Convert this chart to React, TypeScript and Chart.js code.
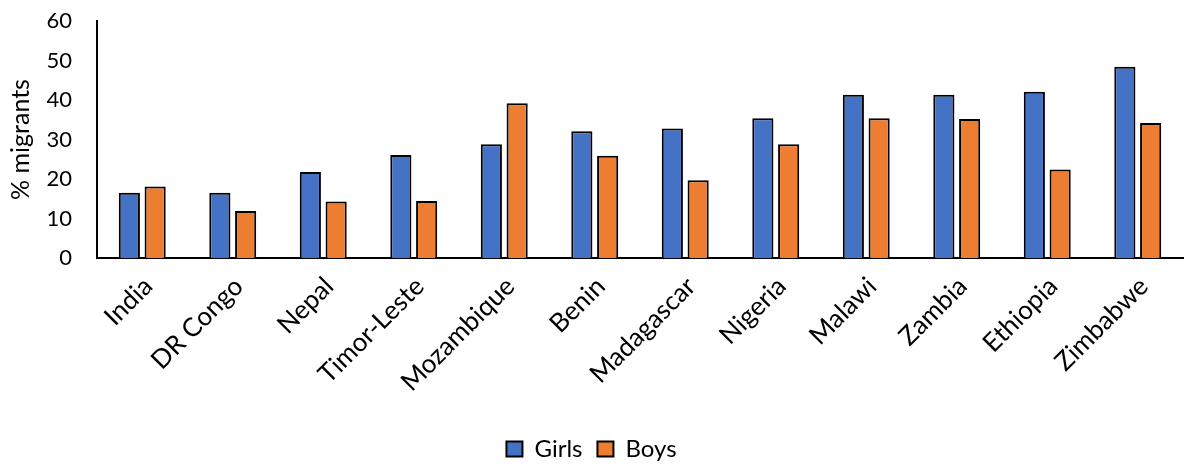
import React, { useEffect, useRef } from 'react';
import { Chart, registerables } from 'chart.js';
Chart.register(...registerables);

const categories = ['India', 'DR Congo', 'Nepal', 'Timor-Leste', 'Mozambique', 'Benin', 'Madagascar', 'Nigeria', 'Malawi', 'Zambia', 'Ethiopia', 'Zimbabwe'];
const girls = [16.5, 16.5, 21.8, 26.1, 28.8, 32.1, 32.8, 35.4, 41.3, 41.3, 42.1, 48.4];
const boys = [18.1, 11.9, 14.3, 14.4, 39.2, 25.9, 19.7, 28.8, 35.4, 35.2, 22.4, 34.2];
const yMin = 0;
const yMax = 60;
const yStep = 10;

const FONT = 'Lato, "Open Sans", sans-serif';

export default function App() {
  const ref = useRef<HTMLCanvasElement | null>(null);
  useEffect(() => {
    document.body.style.margin = '0';
    if (!ref.current) return;
    const chart = new Chart(ref.current, {
      type: 'bar',
      data: {
        labels: categories,
        datasets: [
          { label: 'Girls', data: girls, backgroundColor: '#4472C4', borderColor: '#000000', borderWidth: 2, categoryPercentage: 0.57, barPercentage: 0.82 },
          { label: 'Boys', data: boys, backgroundColor: '#ED7D31', borderColor: '#000000', borderWidth: 2, categoryPercentage: 0.57, barPercentage: 0.82 },
        ],
      },
      options: {
        responsive: false,
        animation: false,
        layout: { padding: { top: 21, right: 2, left: 0, bottom: -3 } },
        plugins: {
          tooltip: { enabled: false },
          legend: {
            position: 'bottom',
            labels: {
              boxWidth: 16,
              boxHeight: 15,
              padding: 15,
              color: '#000',
              font: { family: FONT, size: 24 },
            },
          },
        },
        scales: {
          x: {
            grid: { display: false, drawTicks: false },
            border: { display: true, color: '#000', width: 2 },
            ticks: {
              autoSkip: false,
              maxRotation: 45,
              minRotation: 45,
              padding: 13,
              labelOffset: 6,
              color: '#000',
              font: { family: FONT, size: 26 },
            },
            afterFit: (s: any) => { s.height = 164; },
          },
          y: {
            min: yMin,
            max: yMax,
            grid: { display: false, drawTicks: false },
            border: { display: true, color: '#000', width: 2 },
            ticks: {
              stepSize: yStep,
              padding: 25,
              color: '#000',
              font: { family: FONT, size: 22 },
            },
            title: {
              display: true,
              text: '% migrants',
              color: '#000',
              font: { family: FONT, size: 25 },
              padding: { top: 6, bottom: 0 },
            },
            afterFit: (s: any) => { s.width = 97; s.paddingTop = 0; s.paddingBottom = 0; },
          },
        },
      },
    });
    return () => chart.destroy();
  }, []);
  return (
    <div style={{ width: 1185, height: 468 }}>
      <canvas ref={ref} width={1185} height={468} />
    </div>
  );
}
